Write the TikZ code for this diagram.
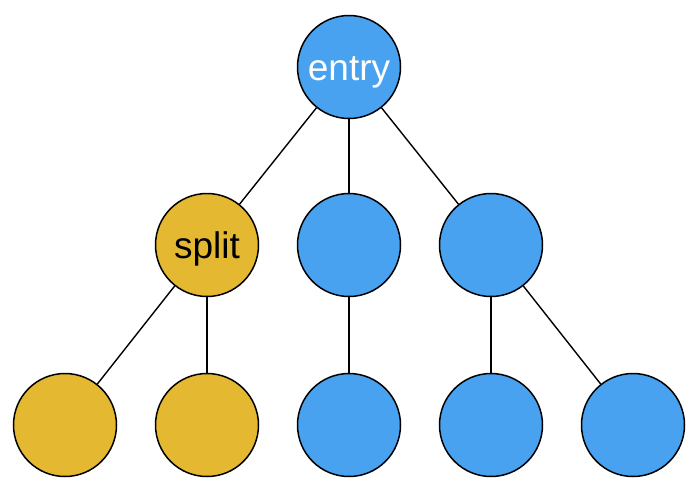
\documentclass[tikz,border=0pt]{standalone}
\usepackage{fontspec}
\setmainfont{Liberation Sans}
\definecolor{nblue}{HTML}{48A2F0}
\definecolor{ngold}{HTML}{E4B831}
\begin{document}
\begin{tikzpicture}[x=1pt,y=-1pt,
  nd/.style={circle,draw=black,line width=1.5pt,minimum size=103pt,inner sep=0pt,
    font=\fontsize{37}{37}\selectfont,text height=27pt,text depth=0pt},
  bl/.style={nd,fill=nblue,text=white},
  gd/.style={nd,fill=ngold,text=black},
  edge/.style={line width=1.4pt}]
\useasboundingbox (0,0) rectangle (699,491);
\node[bl] (entry) at (349,67) {entry};
\node[gd] (split) at (207,245) {split};
\node[bl] (m) at (349,245) {};
\node[bl] (r) at (491,245) {};
\node[gd] (b1) at (65,425) {};
\node[gd] (b2) at (207,425) {};
\node[bl] (b3) at (349,425) {};
\node[bl] (b4) at (491,425) {};
\node[bl] (b5) at (633,425) {};
\draw[edge] (entry) -- (split);
\draw[edge] (entry) -- (m);
\draw[edge] (entry) -- (r);
\draw[edge] (split) -- (b1);
\draw[edge] (split) -- (b2);
\draw[edge] (m) -- (b3);
\draw[edge] (r) -- (b4);
\draw[edge] (r) -- (b5);
\end{tikzpicture}
\end{document}
